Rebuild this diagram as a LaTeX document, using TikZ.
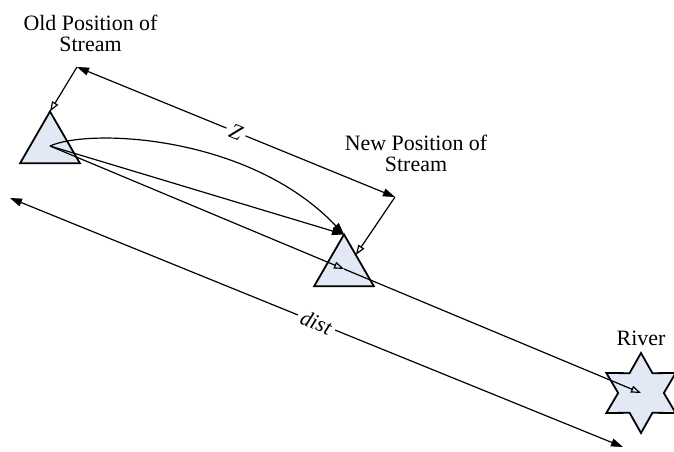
\documentclass[tikz,border=0pt]{standalone}
\usepackage{fontspec}
\setmainfont{Liberation Serif}
\usetikzlibrary{positioning, arrows.meta, shapes.geometric}

\definecolor{shapefill}{RGB}{226,233,245}

\begin{document}
\begin{tikzpicture}[
    x=0.5bp, y=-0.5bp,
    every node/.style={inner sep=0pt, outer sep=0pt, font=\fontsize{11}{10.5}\selectfont},
    stream/.style={draw, line width=0.9pt, fill=shapefill, regular polygon, regular polygon sides=3, minimum size=34.5bp},
    river/.style={draw, line width=0.9pt, fill=shapefill, star, star points=6, star point ratio=1.75, minimum size=40bp},
    lbl/.style={align=center},
    tag/.style={sloped, fill=white, inner sep=2pt},
    arrow/.style={-{Triangle[length=6bp, width=4bp]}, line width=0.6pt},
    openarrow/.style={-{Triangle[open, length=5bp, width=3.5bp]}, line width=0.6pt},
    dim/.style={{Triangle[length=6bp, width=4bp]}-{Triangle[length=6bp, width=4bp]}, line width=0.6pt}
]
\useasboundingbox (0,0) rectangle (674,452);

% Nodes
\node[stream] (old) at (50,146) {};

\node[stream] (new) at (344,269) {};

\node[river] (river) at (641,393) {};

\node[lbl] (oldlbl) at (90.5,33) {Old Position of\\Stream};

\node[lbl] (newlbl) at (416,153) {New Position of\\Stream};

\node[lbl] (riverlbl) [above=3.5bp of river] {River};

\coordinate (zold) at (77,67);
\coordinate (znew) at (395,197);
\coordinate (dstart) at (10,198);
\coordinate (dend) at (623,447);

% Arrows
\draw[dim] (zold) -- node[tag] {\textit{Z}} (znew);

\draw[openarrow] (zold) -- (old.corner 1);

\draw[openarrow] (znew) -- (new.50);

\draw[arrow] (old.center) -- (new.corner 1);

\draw[arrow] (old.center) .. controls (90,128) and (250,135) .. (new.corner 1);

\draw[openarrow] (old.center) -- (new.center);

\draw[openarrow] (new.center) -- (river.center);

\draw[dim] (dstart) -- node[tag] {\textit{dist}} (dend);

\end{tikzpicture}
\end{document}
